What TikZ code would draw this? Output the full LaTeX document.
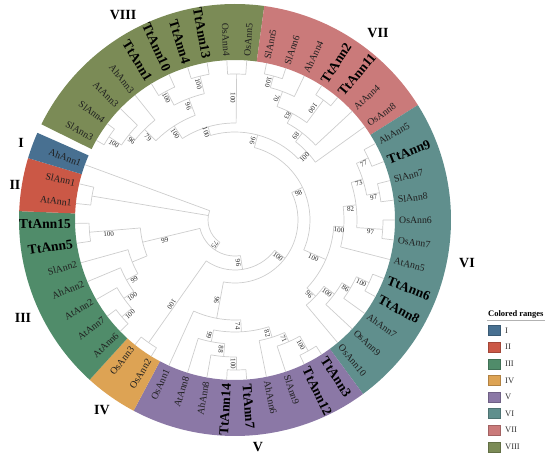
\documentclass[tikz,border=0pt]{standalone}
\usepackage{fontspec}
\setmainfont{Liberation Serif}
\definecolor{cI}{RGB}{72,112,145}
\definecolor{cII}{RGB}{203,88,70}
\definecolor{cIII}{RGB}{80,140,106}
\definecolor{cIV}{RGB}{221,163,84}
\definecolor{cV}{RGB}{139,120,166}
\definecolor{cVI}{RGB}{96,143,141}
\definecolor{cVII}{RGB}{202,122,122}
\definecolor{cVIII}{RGB}{123,139,86}
\definecolor{treegray}{RGB}{205,205,205}
\newcommand\tbr[3]{\draw[br] (#1:#2pt) -- (#1:#3pt);}
\newcommand\tarc[3]{\draw[br] (#1:#3pt) arc[start angle=#1, end angle=#2, radius=#3pt];}
\newcommand\bsa[3]{\node[bs, rotate=#1, anchor=north] at (#1:#2pt) {#3};}
\newcommand\bsb[3]{\node[bs, rotate=#1+180, anchor=north] at (#1:#2pt) {#3};}
\newcommand\lfa[3]{\node[#3, rotate=#1, anchor=west] (#2) at (#1:164pt) {#2};}
\newcommand\lfb[3]{\node[#3, rotate=#1+180, anchor=east] (#2) at (#1:164pt) {#2};}
\newcommand\rsect[3]{\fill[#3] (#1:160pt) arc[start angle=#1, end angle=#2, radius=160pt] -- (#2:216pt) arc[start angle=#2, end angle=#1, radius=216pt] -- cycle;}
\begin{document}
\begin{tikzpicture}[x=1pt,y=1pt,
  br/.style={draw=treegray, line width=0.7pt},
  bs/.style={font=\fontsize{7}{7}\selectfont, inner sep=0.8pt, text=black!85},
  lbl/.style={font=\fontsize{9.8}{10}\selectfont, inner sep=0pt, text=black!88},
  tlb/.style={font=\fontsize{13.5}{14}\selectfont\bfseries, inner sep=0pt, text=black},
  grp/.style={font=\fontsize{14}{16}\selectfont\bfseries, inner sep=0pt},
  leg/.style={font=\fontsize{8.5}{9}\selectfont, anchor=west, inner sep=0pt, text=black!80},
  sw/.style={minimum width=12pt, minimum height=10pt, inner sep=0pt}
]
\useasboundingbox (0,0) rectangle (550,461);
\begin{scope}[shift={(235,241)}]
% ring sectors
\rsect{82.2}{153.7}{cVIII}
\rsect{32.15}{82.2}{cVII}
\rsect{-53.65}{32.15}{cVI}
\rsect{-118.0}{-53.65}{cV}
\rsect{-132.3}{-118.0}{cIV}
\rsect{-182.35}{-132.3}{cIII}
\rsect{-196.65}{-182.35}{cII}
\rsect{-203.8}{-196.65}{cI}
% ---- tree: VIII
\tarc{142.975}{150.125}{151}\tbr{150.125}{151}{160}\tbr{142.975}{151}{160}
\tarc{135.825}{146.55}{136}\tbr{135.825}{136}{160}\tbr{146.55}{136}{151}
\tarc{128.675}{141.19}{128}\tbr{128.675}{128}{160}\tbr{141.19}{128}{136}
\tarc{114.375}{121.525}{146}\tbr{114.375}{146}{160}\tbr{121.525}{146}{160}
\tarc{100.075}{107.225}{148}\tbr{100.075}{148}{160}\tbr{107.225}{148}{160}
\tarc{103.65}{117.95}{130}\tbr{117.95}{130}{146}\tbr{103.65}{130}{148}
\tarc{110.8}{134.93}{112}\tbr{134.93}{112}{128}\tbr{110.8}{112}{130}
\tarc{85.775}{92.925}{146}\tbr{85.775}{146}{160}\tbr{92.925}{146}{160}
\tarc{89.35}{122.87}{97}\tbr{122.87}{97}{112}\tbr{89.35}{97}{146}
% VII
\tarc{71.475}{78.625}{149}\tbr{71.475}{149}{160}\tbr{78.625}{149}{160}
\tarc{64.325}{75.05}{137}\tbr{64.325}{137}{160}\tbr{75.05}{137}{149}
\tarc{50.025}{57.175}{149}\tbr{50.025}{149}{160}\tbr{57.175}{149}{160}
\tarc{53.6}{69.69}{121}\tbr{69.69}{121}{137}\tbr{53.6}{121}{149}
\tarc{42.875}{61.64}{110}\tbr{42.875}{110}{160}\tbr{61.64}{110}{121}
\tarc{35.725}{52.26}{99}\tbr{35.725}{99}{160}\tbr{52.26}{99}{110}
\tarc{43.99}{106.11}{88}\tbr{43.99}{88}{99}\tbr{106.11}{88}{97}
% VI
\tarc{21.425}{28.575}{147}\tbr{21.425}{147}{160}\tbr{28.575}{147}{160}
\tarc{7.125}{14.275}{147}\tbr{7.125}{147}{160}\tbr{14.275}{147}{160}
\tarc{10.7}{25}{134}\tbr{25}{134}{147}\tbr{10.7}{134}{147}
\tarc{-7.175}{-0.025}{148}\tbr{-7.175}{148}{160}\tbr{-0.025}{148}{160}
\tarc{-3.6}{17.85}{122}\tbr{17.85}{122}{134}\tbr{-3.6}{122}{148}
\tarc{-14.325}{7.125}{109}\tbr{-14.325}{109}{160}\tbr{7.125}{109}{122}
\tarc{-28.625}{-21.475}{148}\tbr{-28.625}{148}{160}\tbr{-21.475}{148}{160}
\tarc{-35.775}{-25.05}{134}\tbr{-35.775}{134}{160}\tbr{-25.05}{134}{148}
\tarc{-42.925}{-30.41}{124}\tbr{-42.925}{124}{160}\tbr{-30.41}{124}{134}
\tarc{-50.075}{-36.67}{111}\tbr{-50.075}{111}{160}\tbr{-36.67}{111}{124}
\tarc{-43.37}{-3.6}{99}\tbr{-3.6}{99}{109}\tbr{-43.37}{99}{111}
\tarc{-23.49}{75.05}{75}\tbr{75.05}{75}{88}\tbr{-23.49}{75}{99}
% V
\tarc{-92.975}{-85.825}{150}\tbr{-92.975}{150}{160}\tbr{-85.825}{150}{160}
\tarc{-100.125}{-89.4}{137}\tbr{-100.125}{137}{160}\tbr{-89.4}{137}{150}
\tarc{-107.275}{-94.76}{124}\tbr{-107.275}{124}{160}\tbr{-94.76}{124}{137}
\tarc{-64.375}{-57.225}{150}\tbr{-64.375}{150}{160}\tbr{-57.225}{150}{160}
\tarc{-71.525}{-60.8}{133}\tbr{-71.525}{133}{160}\tbr{-60.8}{133}{150}
\tarc{-78.675}{-66.16}{123}\tbr{-78.675}{123}{160}\tbr{-66.16}{123}{133}
\tarc{-101.02}{-72.42}{112}\tbr{-101.02}{112}{124}\tbr{-72.42}{112}{123}
\tarc{-114.425}{-86.72}{100}\tbr{-114.425}{100}{160}\tbr{-86.72}{100}{112}
\tarc{-100.57}{25.78}{63}\tbr{25.78}{63}{75}\tbr{-100.57}{63}{100}
% IV
\tarc{-128.725}{-121.575}{150}\tbr{-128.725}{150}{160}\tbr{-121.575}{150}{160}
\tarc{-125.15}{-37.4}{50}\tbr{-37.4}{50}{63}\tbr{-125.15}{50}{150}
% III
\tarc{-178.775}{-171.625}{146}\tbr{-178.775}{146}{160}\tbr{-171.625}{146}{160}
\tarc{-143.025}{-135.875}{149}\tbr{-143.025}{149}{160}\tbr{-135.875}{149}{160}
\tarc{-150.175}{-139.45}{136}\tbr{-150.175}{136}{160}\tbr{-139.45}{136}{149}
\tarc{-157.325}{-144.81}{124}\tbr{-157.325}{124}{160}\tbr{-144.81}{124}{136}
\tarc{-164.475}{-151.07}{111}\tbr{-164.475}{111}{160}\tbr{-151.07}{111}{124}
\tarc{-175.2}{-157.77}{95}\tbr{-175.2}{95}{146}\tbr{-157.77}{95}{111}
\tarc{-166.49}{-81.28}{36}\tbr{-81.28}{36}{50}\tbr{-166.49}{36}{95}
% II, I, root
\tarc{-193.075}{-185.925}{145}\tbr{-193.075}{145}{160}\tbr{-185.925}{145}{160}
\tarc{-200.225}{-123.89}{27}\tbr{-200.225}{27}{160}\tbr{-189.5}{27}{145}\tbr{-123.89}{27}{36}
% ---- bootstrap values
\bsb{146.55}{143}{100}\bsb{141.19}{130}{96}\bsb{134.93}{120}{79}
\bsb{117.95}{140}{100}\bsb{103.65}{141}{100}\bsb{110.8}{123}{96}
\bsb{122.87}{105}{100}\bsb{89.35}{122}{100}\bsb{106.11}{92.5}{100}
\bsb{75.05}{142}{100}\bsb{69.69}{128.5}{70}\bsb{53.6}{136}{100}
\bsb{61.64}{117}{83}\bsb{52.26}{103.5}{89}\bsa{43.99}{93.5}{100}
\bsb{75.05}{81}{96}\bsa{25.78}{69}{98}
\bsa{25}{140.5}{77}\bsa{10.7}{140.5}{97}\bsa{17.85}{129}{73}
\bsa{-3.6}{136}{97}\bsa{7.125}{116}{82}\bsa{-3.6}{104.5}{100}
\bsa{-25.05}{141}{100}\bsa{-30.41}{130}{86}\bsa{-36.67}{117}{100}
\bsa{-43.37}{105}{96}\bsa{-23.49}{87}{100}
\bsa{-37.4}{56.5}{100}
\bsa{-89.4}{144}{100}\bsa{-94.76}{130}{88}\bsa{-101.02}{118}{99}
\bsa{-60.8}{141}{100}\bsa{-66.16}{128}{71}\bsa{-72.42}{118}{82}
\bsa{-86.72}{106}{74}\bsa{-100.57}{82}{96}
\bsa{-125.15}{105}{100}\bsa{-81.28}{43}{96}
\bsb{-166.49}{73}{99}\bsb{-175.2}{127}{100}\bsb{-139.45}{141}{100}
\bsb{-144.81}{128}{100}\bsb{-151.07}{117}{99}
\bsa{-123.89}{31.5}{75}
% ---- leaf labels
\lfb{150.125}{SlAnn3}{lbl}\lfb{142.975}{SlAnn4}{lbl}\lfb{135.825}{AtAnn3}{lbl}
\lfb{128.675}{AhAnn3}{lbl}\lfb{121.525}{TtAnn1}{tlb}\lfb{114.375}{TtAnn10}{tlb}
\lfb{107.225}{TtAnn4}{tlb}\lfb{100.075}{TtAnn13}{tlb}\lfb{92.925}{OsAnn4}{lbl}
\lfa{85.775}{OsAnn5}{lbl}\lfa{78.625}{SlAnn5}{lbl}\lfa{71.475}{SlAnn6}{lbl}
\lfa{64.325}{AhAnn4}{lbl}\lfa{57.175}{TtAnn2}{tlb}\lfa{50.025}{TtAnn11}{tlb}
\lfa{42.875}{AtAnn4}{lbl}\lfa{35.725}{OsAnn8}{lbl}\lfa{28.575}{AhAnn5}{lbl}
\lfa{21.425}{TtAnn9}{tlb}\lfa{14.275}{SlAnn7}{lbl}\lfa{7.125}{SlAnn8}{lbl}
\lfa{-0.025}{OsAnn6}{lbl}\lfa{-7.175}{OsAnn7}{lbl}\lfa{-14.325}{AtAnn5}{lbl}
\lfa{-21.475}{TtAnn6}{tlb}\lfa{-28.625}{TtAnn8}{tlb}\lfa{-35.775}{AhAnn7}{lbl}
\lfa{-42.925}{OsAnn9}{lbl}\lfa{-50.075}{OsAnn10}{lbl}\lfa{-57.225}{TtAnn3}{tlb}
\lfa{-64.375}{TtAnn12}{tlb}\lfa{-71.525}{SlAnn9}{lbl}\lfa{-78.675}{AhAnn6}{lbl}
\lfa{-85.825}{TtAnn7}{tlb}\lfb{-92.975}{TtAnn14}{tlb}\lfb{-100.125}{AhAnn8}{lbl}
\lfb{-107.275}{AtAnn8}{lbl}\lfb{-114.425}{OsAnn1}{lbl}\lfb{-121.575}{OsAnn2}{lbl}
\lfb{-128.725}{OsAnn3}{lbl}\lfb{-135.875}{AtAnn6}{lbl}\lfb{-143.025}{AtAnn7}{lbl}
\lfb{-150.175}{AtAnn2}{lbl}\lfb{-157.325}{AhAnn2}{lbl}\lfb{-164.475}{SlAnn2}{lbl}
\lfb{-171.625}{TtAnn5}{tlb}\lfb{-178.775}{TtAnn15}{tlb}\lfb{-185.925}{AtAnn1}{lbl}
\lfb{-193.075}{SlAnn1}{lbl}\lfb{-200.225}{AhAnn1}{lbl}
\end{scope}
% group labels
\node[grp] (gVIII) at (123,446) {VIII};
\node[grp] (gVII) at (378,428) {VII};
\node[grp] (gVI) at (467,198) {VI};
\node[grp] (gV) at (258,14) {V};
\node[grp] (gIV) at (102,51) {IV};
\node[grp] (gIII) at (23,143) {III};
\node[grp] (gII) at (15,276) {II};
\node[grp] (gI) at (21,318) {I};
% legend
\node[font=\fontsize{8.5}{9}\selectfont\bfseries, anchor=west, inner sep=0pt] (ltitle) at (488,147) {Colored ranges};
\draw[black!30, line width=0.6pt] (487,140.5) -- (545,140.5);
\foreach \c/\t [count=\k from 0] in {cI/I,cII/II,cIII/III,cIV/IV,cV/V,cVI/VI,cVII/VII,cVIII/VIII}{
  \node[sw, fill=\c, draw=\c!80!black, line width=0.3pt] (sw\k) at (494,130.5-16.6*\k) {};
  \node[leg] (lg\k) at (505,130.5-16.6*\k) {\t};
}
\end{tikzpicture}
\end{document}
